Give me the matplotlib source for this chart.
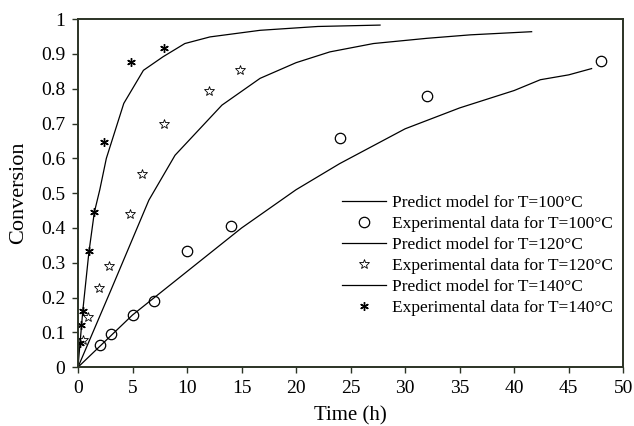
import matplotlib
matplotlib.use("Agg")
import matplotlib.pyplot as plt
from matplotlib.ticker import FuncFormatter

# 100°C
t_model_100 = [0, 2, 5, 10, 15, 20, 24, 30, 35, 40, 42.4, 45, 47.1]
y_model_100 = [0, 0.06, 0.15, 0.275, 0.40, 0.51, 0.585, 0.685, 0.745, 0.795, 0.826, 0.84, 0.858]
t_exp_100 = [2, 3, 5, 7, 10, 14, 24, 32, 48]
y_exp_100 = [0.065, 0.095, 0.15, 0.19, 0.335, 0.405, 0.66, 0.78, 0.88]

# 120°C
t_model_120 = [0, 3, 6.5, 8.9, 13.2, 16.7, 20, 23.1, 27.1, 32, 36, 41.6]
y_model_120 = [0, 0.22, 0.48, 0.609, 0.753, 0.83, 0.875, 0.906, 0.93, 0.945, 0.955, 0.964]
t_exp_120 = [0.5, 0.95, 1.9, 2.85, 4.8, 5.9, 7.9, 12, 14.9]
y_exp_120 = [0.078, 0.145, 0.228, 0.29, 0.44, 0.556, 0.70, 0.794, 0.853]

# 140°C
t_model_140 = [0, 0.45, 1, 1.5, 2, 2.6, 4.2, 6, 7.8, 9.8, 12.1, 16.7, 22, 27.7]
y_model_140 = [0, 0.165, 0.33, 0.445, 0.51, 0.60, 0.758, 0.853, 0.892, 0.93, 0.949, 0.968, 0.979, 0.983]
t_exp_140 = [0.15, 0.28, 0.43, 1.0, 1.47, 2.36, 4.83, 7.92]
y_exp_140 = [0.07, 0.122, 0.162, 0.333, 0.445, 0.646, 0.876, 0.918]

plt.rcParams["font.family"] = ["Liberation Serif", "DejaVu Serif"]

fig = plt.figure(figsize=(6.34, 4.26), dpi=100)
ax = fig.add_axes([0.123, 0.138, 0.860, 0.817])

line_kw = dict(color="black", lw=0.9)
ax.plot(t_model_100, y_model_100, label="Predict model for T=100°C", **line_kw)
ax.plot(t_exp_100, y_exp_100, ls="none", marker="o", ms=7.5, mfc="none",
        mec="black", mew=0.9, label="Experimental data for T=100°C")
ax.plot(t_model_120, y_model_120, label="Predict model for T=120°C", **line_kw)
ax.plot(t_exp_120, y_exp_120, ls="none", marker="*", ms=7, mfc="none",
        mec="black", mew=0.6, label="Experimental data for T=120°C")
ax.plot(t_model_140, y_model_140, label="Predict model for T=140°C", **line_kw)
ax.plot(t_exp_140, y_exp_140, ls="none", marker=(6, 2, 0), ms=6.2,
        mec="black", mew=1.0, label="Experimental data for T=140°C")

ax.set_xlim(0, 50)
ax.set_ylim(0, 1)
ax.set_xticks(range(0, 51, 5))
ax.set_yticks([i / 10 for i in range(11)])
ax.yaxis.set_major_formatter(FuncFormatter(lambda v, p: f"{v:g}"))
ax.tick_params(direction="out", length=4, width=1.0, labelsize=14, pad=5,
               color="#2b3325", top=False, right=False)
for s in ax.spines.values():
    s.set_color("#2b3325")
    s.set_linewidth(1.4)

ax.set_xlabel("Time (h)", fontsize=15, labelpad=7)
ax.set_ylabel("Conversion", fontsize=16, labelpad=9)

ax.legend(loc="center left", bbox_to_anchor=(0.485, 0.32), frameon=False,
          fontsize=12.5, handlelength=2.5, handletextpad=0.35,
          labelspacing=0.28, borderpad=0, borderaxespad=0)

fig.savefig("out.png", dpi=100)
